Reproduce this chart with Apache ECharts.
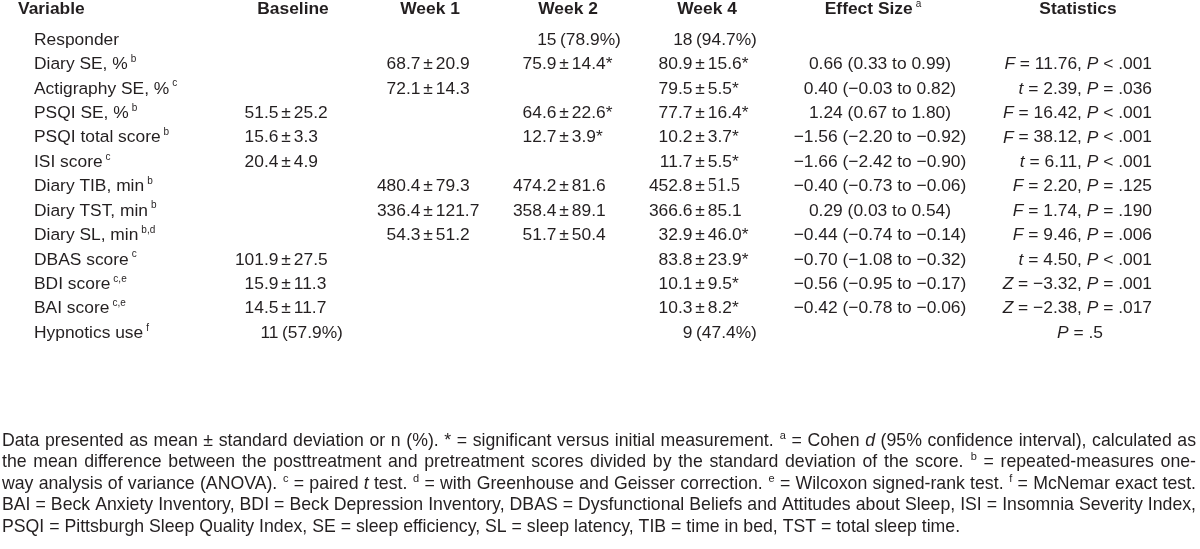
<!DOCTYPE html>
<html><head><meta charset="utf-8">
<script src="https://cdn.jsdelivr.net/npm/echarts@6/dist/echarts.min.js"></script>
<style>html,body{margin:0;padding:0;background:#fff}#c{width:1200px;height:549px}</style>
</head><body><div id="c"></div>
<script>
// ---------------- data ----------------
const headers = ['Variable', 'Baseline', 'Week 1', 'Week 2', 'Week 4', 'Effect Size{s:a}', 'Statistics'];
const variables = ['Responder', 'Diary SE, %{s:b}', 'Actigraphy SE, %{s:c}', 'PSQI SE, %{s:b}', 'PSQI total score{s:b}',
  'ISI score{s:c}', 'Diary TIB, min{s:b}', 'Diary TST, min{s:b}', 'Diary SL, min{s:b,d}', 'DBAS score{s:c}',
  'BDI score{s:c,e}', 'BAI score{s:c,e}', 'Hypnotics use{s:f}'];
const baseline = ['', '', '', '51.5 ± 25.2', '15.6 ± 3.3', '20.4 ± 4.9', '', '', '', '101.9 ± 27.5', '15.9 ± 11.3', '14.5 ± 11.7', '11 (57.9%)'];
const week1 = ['', '68.7 ± 20.9', '72.1 ± 14.3', '', '', '', '480.4 ± 79.3', '336.4 ± 121.7', '54.3 ± 51.2', '', '', '', ''];
const week2 = ['15 (78.9%)', '75.9 ± 14.4*', '', '64.6 ± 22.6*', '12.7 ± 3.9*', '', '474.2 ± 81.6', '358.4 ± 89.1', '51.7 ± 50.4', '', '', '', ''];
const week4 = ['18 (94.7%)', '80.9 ± 15.6*', '79.5 ± 5.5*', '77.7 ± 16.4*', '10.2 ± 3.7*', '11.7 ± 5.5*', '452.8 ± {m:51.5}', '366.6 ± 85.1', '32.9 ± 46.0*', '83.8 ± 23.9*', '10.1 ± 9.5*', '10.3 ± 8.2*', '9 (47.4%)'];
const effectSize = ['', '0.66 (0.33 to 0.99)', '0.40 (−0.03 to 0.82)', '1.24 (0.67 to 1.80)', '−1.56 (−2.20 to −0.92)',
  '−1.66 (−2.42 to −0.90)', '−0.40 (−0.73 to −0.06)', '0.29 (0.03 to 0.54)', '−0.44 (−0.74 to −0.14)',
  '−0.70 (−1.08 to −0.32)', '−0.56 (−0.95 to −0.17)', '−0.42 (−0.78 to −0.06)', ''];
const statistics = ['', '{i:F} = 11.76, {i:P} < .001', '{i:t} = 2.39, {i:P} = .036', '{i:F} = 16.42, {i:P} < .001',
  '{i:F} = 38.12, {i:P} < .001', '{i:t} = 6.11, {i:P} < .001', '{i:F} = 2.20, {i:P} = .125', '{i:F} = 1.74, {i:P} = .190',
  '{i:F} = 9.46, {i:P} = .006', '{i:t} = 4.50, {i:P} < .001', '{i:Z} = −3.32, {i:P} = .001', '{i:Z} = −2.38, {i:P} = .017', '{i:P} = .5'];
const notes = [
  'Data presented as mean ± standard deviation or n (%). * = significant versus initial measurement. {s:a} = Cohen {i:d} (95% confidence interval), calculated as',
  'the mean difference between the posttreatment and pretreatment scores divided by the standard deviation of the score. {s:b} = repeated-measures one-',
  'way analysis of variance (ANOVA). {s:c} = paired {i:t} test. {s:d} = with Greenhouse and Geisser correction. {s:e} = Wilcoxon signed-rank test. {s:f} = McNemar exact test.',
  'BAI = Beck Anxiety Inventory, BDI = Beck Depression Inventory, DBAS = Dysfunctional Beliefs and Attitudes about Sleep, ISI = Insomnia Severity Index,',
  'PSQI = Pittsburgh Sleep Quality Index, SE = sleep efficiency, SL = sleep latency, TIB = time in bed, TST = total sleep time.'
];

// ---------------- layout / style ----------------
const FONT = '"Liberation Sans", Arial, sans-serif';
const SERIF = '"Liberation Serif", "Times New Roman", serif';
const INK = '#231f20';
const SIZE = 17.4;
const NOTE_SIZE = 17.7;
const HEADER_ROW = -1.25;
const COLS = [
  { data: variables, x: 34, align: 'left', hx: 18, halign: 'left' },
  { data: baseline, x: 286, align: 'pm', hx: 293, halign: 'center' },
  { data: week1, x: 428, align: 'pm', hx: 430, halign: 'center' },
  { data: week2, x: 564, align: 'pm', hx: 568, halign: 'center' },
  { data: week4, x: 700, align: 'pm', hx: 707, halign: 'center' },
  { data: effectSize, x: 880, align: 'center', hx: 873, halign: 'center' },
  { data: statistics, x: 1152, align: 'right', hx: 1078, halign: 'center' }
];

const ctx = document.createElement('canvas').getContext('2d');
function parse(str) {
  const out = []; const re = /\{([ism]):([^}]*)\}/g; let last = 0, m;
  while ((m = re.exec(str))) {
    if (m.index > last) out.push({ t: str.slice(last, m.index), st: 'n' });
    out.push({ t: m[2], st: m[1] }); last = re.lastIndex;
  }
  if (last < str.length) out.push({ t: str.slice(last), st: 'n' });
  return out;
}
function segFont(st, size, bold) {
  if (st === 's') return { fontSize: Math.round(size * 0.6), fontStyle: 'normal', fontWeight: 'normal', fontFamily: FONT };
  if (st === 'i') return { fontSize: size, fontStyle: 'italic', fontWeight: 'normal', fontFamily: FONT };
  if (st === 'm') return { fontSize: size + 1, fontStyle: 'normal', fontWeight: 'normal', fontFamily: SERIF };
  return { fontSize: size, fontStyle: 'normal', fontWeight: bold ? 'bold' : 'normal', fontFamily: FONT };
}
function run(str, size, bold, supPad) {
  const segs = parse(str); let w = 0;
  segs.forEach(s => {
    const f = segFont(s.st, size, bold);
    ctx.font = f.fontStyle + ' ' + f.fontWeight + ' ' + f.fontSize + 'px ' + f.fontFamily;
    const pad = s.st === 's' ? supPad : 0;
    s.dx = w + pad; s.f = f;
    s.w = ctx.measureText(s.t).width + pad; w += s.w;
  });
  return { segs, width: w, size };
}
function runEls(r, x, y) {
  return r.segs.map(s => ({
    type: 'text', x: x + s.dx, y: s.st === 's' ? y - r.size * 0.3 : y, silent: true,
    style: Object.assign({ text: s.t, fill: INK, align: 'left', verticalAlign: 'middle',
      textAlign: 'left', textVerticalAlign: 'middle' }, s.f)
  }));
}
function cellEls(text, align, x, y, bold) {
  const supPad = 3;
  if (align === 'pm') {
    let parts = text.split(' ± ');
    if (parts.length === 2) {
      const L = run(parts[0], SIZE, bold, supPad), R = run(parts[1], SIZE, bold, supPad), P = run('±', SIZE, bold, 0);
      return runEls(L, x - 7.6 - L.width, y).concat(runEls(P, x - P.width / 2, y), runEls(R, x + 7.8, y));
    }
    const i = text.indexOf(' (');
    if (i > 0) {
      const L = run(text.slice(0, i), SIZE, bold, supPad), R = run(text.slice(i + 1), SIZE, bold, supPad);
      return runEls(L, x - 7.5 - L.width, y).concat(runEls(R, x - 4, y));
    }
    align = 'center';
  }
  const r = run(text, SIZE, bold, supPad);
  let x0 = x;
  if (align === 'center') x0 = x - r.width / 2;
  else if (align === 'right') x0 = x - r.width;
  return runEls(r, x0, y);
}

// cells
const cells = [];
COLS.forEach((c, ci) => {
  cells.push({ value: [c.hx, HEADER_ROW], text: headers[ci], align: c.halign, bold: true });
  c.data.forEach((t, ri) => {
    if (!t) return;
    let align = c.align, x = c.x;
    if (align === 'right' && t.indexOf(',') < 0) { align = 'center'; x = c.hx + 2; }
    cells.push({ value: [x, ri], text: t, align, bold: false });
  });
});

// notes (justified)
const NOTE_X0 = 2, NOTE_X1 = 1196, NOTE_Y0 = 441, NOTE_DY = 21.5;
const noteEls = [];
notes.forEach((line, li) => {
  const words = line.split(' ').map(w => run(w, NOTE_SIZE, false, 0.5));
  const total = words.reduce((a, w) => a + w.width, 0);
  ctx.font = 'normal normal ' + NOTE_SIZE + 'px ' + FONT;
  const sp = ctx.measureText(' ').width;
  const gap = li === notes.length - 1 ? sp : (NOTE_X1 - NOTE_X0 - total) / (words.length - 1);
  let x = NOTE_X0; const y = NOTE_Y0 + li * NOTE_DY;
  words.forEach(w => { noteEls.push(...runEls(w, x, y)); x += w.width + gap; });
});

const chart = echarts.init(document.getElementById('c'), null, { renderer: 'canvas' });
chart.setOption({
  animation: false,
  backgroundColor: '#fff',
  grid: { left: 0, right: 0, top: 9.5, height: 323.5 },
  xAxis: { type: 'value', min: 0, max: 1200, show: false },
  yAxis: { type: 'value', inverse: true, min: HEADER_ROW, max: 12, show: false },
  tooltip: { show: false },
  series: [{
    type: 'custom', silent: true, clip: false,
    data: cells.map(c => c.value),
    renderItem: function (params, api) {
      const c = cells[params.dataIndex];
      const p = api.coord([api.value(0), api.value(1)]);
      return { type: 'group', children: cellEls(c.text, c.align, p[0], p[1], c.bold) };
    }
  }],
  graphic: { elements: noteEls }
});
</script></body></html>
